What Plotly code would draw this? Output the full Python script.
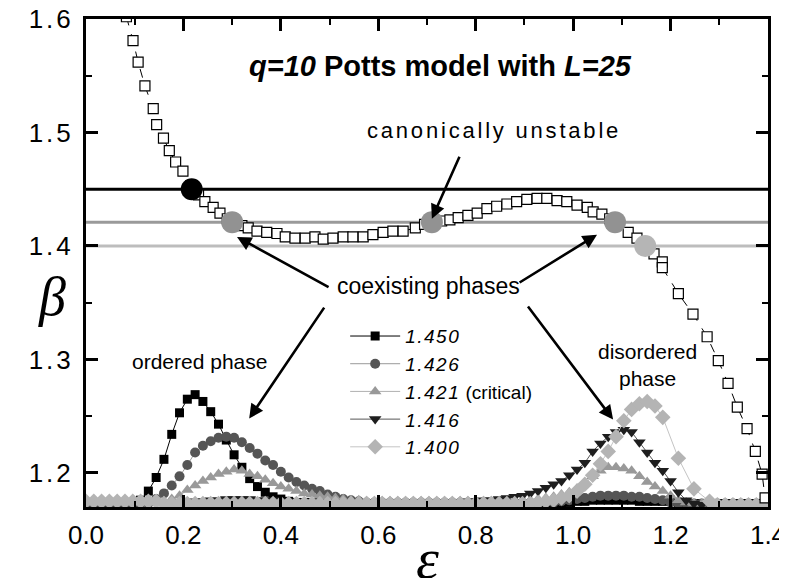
import plotly.graph_objects as go

# ---------------- data ----------------
# microcanonical caloric curve beta(eps)
eps_curve = [0.083, 0.0965, 0.107, 0.121, 0.138, 0.145, 0.159, 0.171, 0.184, 0.199,
             0.215, 0.231, 0.244, 0.261, 0.275, 0.290, 0.305, 0.320, 0.333, 0.351,
             0.371, 0.392, 0.409, 0.429, 0.450, 0.470, 0.487, 0.507, 0.528, 0.548,
             0.569, 0.589, 0.610, 0.630, 0.651, 0.676, 0.695, 0.712, 0.730, 0.747,
             0.764, 0.784, 0.803, 0.823, 0.843, 0.864, 0.884, 0.905, 0.926, 0.946,
             0.967, 0.987, 1.008, 1.029, 1.041, 1.059, 1.075, 1.090, 1.113, 1.131,
             1.150, 1.166, 1.183, 1.183, 1.216, 1.246, 1.275, 1.298, 1.318, 1.337,
             1.357, 1.374, 1.388, 1.394]
beta_curve = [1.602, 1.581, 1.562, 1.541, 1.521, 1.507, 1.495, 1.484, 1.474, 1.466,
              1.453, 1.445, 1.439, 1.434, 1.429, 1.424, 1.420, 1.418, 1.416, 1.413,
              1.412, 1.411, 1.408, 1.407, 1.407, 1.408, 1.406, 1.407, 1.408, 1.408,
              1.408, 1.410, 1.412, 1.413, 1.413, 1.416, 1.419, 1.421, 1.422, 1.423,
              1.425, 1.427, 1.429, 1.433, 1.435, 1.437, 1.439, 1.441, 1.442, 1.442,
              1.440, 1.439, 1.436, 1.434, 1.430, 1.428, 1.424, 1.419, 1.412, 1.407,
              1.400, 1.393, 1.386, 1.381, 1.358, 1.340, 1.320, 1.299, 1.279, 1.258,
              1.239, 1.219, 1.199, 1.178]

# horizontal beta levels
level_beta = [1.450, 1.421, 1.400]
level_color = ["#000000", "#9a9a9a", "#bdbdbd"]
eps_span = [0.0, 1.4]

# coexisting-phase points (intersections)
coex_eps = [0.217, 0.300, 0.710, 1.086, 1.148]
coex_beta = [1.450, 1.421, 1.421, 1.421, 1.400]
coex_color = ["#000000", "#929292", "#929292", "#929292", "#b5b5b5"]

# energy-histogram grid
eps_grid = [0.000, 0.016, 0.032, 0.048, 0.064, 0.080, 0.096, 0.112,
            0.128, 0.144, 0.160, 0.176, 0.192, 0.208, 0.224, 0.240,
            0.256, 0.272, 0.288, 0.304, 0.320, 0.336, 0.352, 0.368,
            0.384, 0.400, 0.416, 0.432, 0.448, 0.464, 0.480, 0.496,
            0.512, 0.528, 0.544, 0.560, 0.576, 0.592, 0.608, 0.624,
            0.640, 0.656, 0.672, 0.688, 0.704, 0.720, 0.736, 0.752,
            0.768, 0.784, 0.800, 0.816, 0.832, 0.848, 0.864, 0.880,
            0.896, 0.912, 0.928, 0.944, 0.960, 0.976, 0.992, 1.008,
            1.024, 1.040, 1.056, 1.072, 1.088, 1.104, 1.120, 1.136,
            1.152, 1.168, 1.184, 1.200, 1.216, 1.232, 1.248, 1.264,
            1.280, 1.296, 1.312, 1.328, 1.344, 1.360, 1.376, 1.392]

h1450 = [1.173, 1.173, 1.173, 1.173, 1.173, 1.173, 1.174, 1.176,
         1.184, 1.196, 1.212, 1.234, 1.253, 1.265, 1.269, 1.263,
         1.254, 1.243, 1.229, 1.216, 1.205, 1.195, 1.188, 1.183,
         1.179, 1.177, 1.175, 1.174, 1.174, 1.174, 1.174, 1.173,
         1.173, 1.173, 1.173, 1.173, 1.173, 1.173, 1.173, 1.173,
         1.173, 1.173, 1.173, 1.173, 1.173, 1.173, 1.173, 1.173,
         1.173, 1.173, 1.173, 1.173, 1.173, 1.173, 1.173, 1.173,
         1.173, 1.173, 1.173, 1.173, 1.173, 1.173, 1.174, 1.175,
         1.175, 1.176, 1.176, 1.176, 1.176, 1.176, 1.176, 1.175,
         1.175, 1.175, 1.175, 1.176, 1.173, 1.173, 1.173, 1.173,
         1.173, 1.173, 1.173, 1.173, 1.173, 1.173, 1.173, 1.173]

h1426 = [1.173, 1.173, 1.173, 1.173, 1.173, 1.173, 1.173, 1.173,
         1.173, 1.177, 1.182, 1.189, 1.197, 1.207, 1.218, 1.224,
         1.228, 1.231, 1.232, 1.231, 1.227, 1.222, 1.217, 1.211,
         1.207, 1.201, 1.196, 1.192, 1.189, 1.186, 1.184, 1.181,
         1.179, 1.177, 1.176, 1.175, 1.174, 1.174, 1.174, 1.174,
         1.174, 1.174, 1.174, 1.174, 1.174, 1.174, 1.174, 1.174,
         1.174, 1.174, 1.174, 1.174, 1.174, 1.174, 1.174, 1.174,
         1.174, 1.174, 1.174, 1.174, 1.174, 1.175, 1.176, 1.177,
         1.178, 1.179, 1.180, 1.180, 1.180, 1.180, 1.179, 1.179,
         1.178, 1.177, 1.176, 1.174, 1.173, 1.173, 1.173, 1.173,
         1.173, 1.173, 1.173, 1.173, 1.173, 1.173, 1.173, 1.173]

h1421 = [1.174, 1.174, 1.174, 1.174, 1.174, 1.174, 1.174, 1.174,
         1.174, 1.174, 1.175, 1.177, 1.180, 1.185, 1.189, 1.193,
         1.196, 1.199, 1.201, 1.203, 1.202, 1.199, 1.197, 1.194,
         1.191, 1.188, 1.186, 1.184, 1.182, 1.181, 1.180, 1.179,
         1.178, 1.177, 1.176, 1.176, 1.175, 1.175, 1.175, 1.175,
         1.175, 1.175, 1.175, 1.175, 1.175, 1.175, 1.175, 1.175,
         1.175, 1.175, 1.175, 1.175, 1.175, 1.175, 1.175, 1.175,
         1.175, 1.176, 1.177, 1.178, 1.179, 1.181, 1.183, 1.186,
         1.191, 1.197, 1.202, 1.205, 1.205, 1.204, 1.202, 1.197,
         1.192, 1.188, 1.184, 1.180, 1.176, 1.174, 1.173, 1.173,
         1.173, 1.173, 1.173, 1.173, 1.173, 1.173, 1.173, 1.173]

h1416 = [1.173, 1.173, 1.173, 1.173, 1.173, 1.173, 1.173, 1.173,
         1.173, 1.173, 1.173, 1.173, 1.173, 1.174, 1.175, 1.175,
         1.176, 1.176, 1.177, 1.177, 1.177, 1.177, 1.176, 1.176,
         1.176, 1.175, 1.174, 1.174, 1.174, 1.174, 1.174, 1.174,
         1.174, 1.174, 1.174, 1.174, 1.174, 1.174, 1.174, 1.174,
         1.174, 1.174, 1.174, 1.174, 1.174, 1.174, 1.174, 1.174,
         1.174, 1.175, 1.175, 1.176, 1.176, 1.177, 1.178, 1.179,
         1.180, 1.182, 1.184, 1.187, 1.190, 1.193, 1.198, 1.203,
         1.209, 1.219, 1.226, 1.232, 1.236, 1.238, 1.236, 1.227,
         1.218, 1.209, 1.202, 1.193, 1.183, 1.176, 1.173, 1.172,
         1.172, 1.172, 1.172, 1.172, 1.172, 1.172, 1.172, 1.172]

h1400 = [1.175, 1.175, 1.175, 1.175, 1.175, 1.175, 1.175, 1.175,
         1.175, 1.175, 1.173, 1.173, 1.173, 1.173, 1.173, 1.173,
         1.173, 1.173, 1.173, 1.173, 1.173, 1.173, 1.173, 1.173,
         1.173, 1.173, 1.173, 1.173, 1.173, 1.173, 1.173, 1.173,
         1.173, 1.173, 1.173, 1.173, 1.173, 1.173, 1.173, 1.173,
         1.173, 1.173, 1.173, 1.173, 1.173, 1.173, 1.173, 1.173,
         1.173, 1.173, 1.173, 1.173, 1.173, 1.173, 1.173, 1.173,
         1.173, 1.173, 1.174, 1.175, 1.176, 1.178, 1.180, 1.184,
         1.190, 1.198, 1.208, 1.219, 1.232, 1.246, 1.256, 1.261,
         1.263, 1.259, 1.249, None, 1.213, None, 1.186, None,
         1.175, 1.172, 1.172, 1.172, 1.172, 1.172, 1.172, 1.172]

series_numbers = ["1.450", "1.426", "1.421", "1.416", "1.400"]
series_suffix = ["", "", " (critical)", "", ""]
series_values = [h1450, h1426, h1421, h1416, h1400]
series_symbols = ["square", "circle", "triangle-up", "triangle-down", "diamond"]
series_mcolor = ["#000000", "#555555", "#999999", "#1e1e1e", "#b4b4b4"]
series_lcolor = ["#000000", "#9a9a9a", "#b0b0b0", "#555555", "#c4c4c4"]
series_msize = [9, 10, 11, 11, 12]

y_ticks = [1.2, 1.3, 1.4, 1.5, 1.6]
y_ticklabels = ["1.2", "1.3", "1.4", "1.5", "1.6"]

FONT = "Arial, Liberation Sans, sans-serif"
SERIF = "Times New Roman, Liberation Serif, serif"

fig = go.Figure()

# horizontal beta levels
for b, c in zip(level_beta, level_color):
    fig.add_trace(go.Scatter(x=eps_span, y=[b, b], mode="lines",
                             line=dict(color=c, width=3), showlegend=False,
                             hoverinfo="skip"))

# histogram series
for num, suf, vals, sym, mc, lc, ms in zip(series_numbers, series_suffix, series_values,
                                            series_symbols, series_mcolor, series_lcolor,
                                            series_msize):
    fig.add_trace(go.Scatter(x=eps_grid, y=vals,
                             name='<span style="letter-spacing:1.5px"><i>%s</i></span>%s' % (num, suf),
                             mode="lines+markers", connectgaps=True,
                             line=dict(color=lc, width=1),
                             marker=dict(symbol=sym, size=ms, color=mc,
                                         line=dict(width=0))))

# caloric curve
fig.add_trace(go.Scatter(x=eps_curve, y=beta_curve, mode="lines+markers",
                         line=dict(color="#000000", width=1, dash="dash"),
                         marker=dict(symbol="square", size=10, color="white",
                                     line=dict(color="#000000", width=1.2)),
                         showlegend=False))

# coexisting points
fig.add_trace(go.Scatter(x=coex_eps, y=coex_beta, mode="markers",
                         marker=dict(symbol="circle", size=22, color=coex_color,
                                     line=dict(width=0)),
                         showlegend=False))

annotations = [
    dict(x=0.727, y=1.559, xref="x", yref="y", showarrow=False,
         text="<b><i>q=10</i> Potts model with <i>L=25</i></b>",
         font=dict(family=FONT, size=29, color="black")),
    dict(x=0.838, y=1.502, xref="x", yref="y", showarrow=False,
         text='<span style="letter-spacing:2.8px">canonically unstable</span>',
         font=dict(family=FONT, size=22, color="black")),
    dict(x=0.704, y=1.3645, xref="x", yref="y", showarrow=False,
         text="coexisting phases",
         font=dict(family=FONT, size=23, color="black")),
    dict(x=0.232, y=1.298, xref="x", yref="y", showarrow=False,
         text="ordered phase",
         font=dict(family=FONT, size=21, color="black")),
    dict(x=1.152, y=1.295, xref="x", yref="y", showarrow=False,
         text="disordered<br>phase",
         font=dict(family=FONT, size=21, color="black")),
    dict(x=-0.073, y=0.43, xref="paper", yref="paper", showarrow=False,
         text="<i>β</i>", font=dict(family=SERIF, size=54, color="black")),
    dict(x=0.501, y=-0.105, xref="paper", yref="paper", showarrow=False,
         xanchor="center", yanchor="middle",
         text="<i>ε</i>", font=dict(family=SERIF, size=58, color="black")),
]

arrows = [
    ((0.710, 1.424), (0.768, 1.480)),
    ((0.310, 1.408), (0.501, 1.363)),
    ((1.049, 1.410), (0.887, 1.367)),
    ((0.335, 1.248), (0.491, 1.347)),
    ((1.082, 1.247), (0.905, 1.348)),
]
for (hx, hy), (tx, ty) in arrows:
    annotations.append(dict(x=hx, y=hy, ax=tx, ay=ty, xref="x", yref="y",
                            axref="x", ayref="y", text="", showarrow=True,
                            arrowhead=2, arrowsize=1.1, arrowwidth=2.6,
                            arrowcolor="black", standoff=0, startstandoff=0))

fig.update_layout(
    width=787, height=578,
    margin=dict(l=78, r=27, t=11, b=79),
    paper_bgcolor="white", plot_bgcolor="white",
    font=dict(family=FONT, color="black"),
    annotations=annotations,
    showlegend=True,
    legend=dict(x=0.380, y=0.389, xanchor="left", yanchor="top",
                bgcolor="rgba(0,0,0,0)", borderwidth=0, itemwidth=50,
                font=dict(family=FONT, size=19, color="black"),
                tracegroupgap=0),
)

fig.update_xaxes(range=[0, 1.4], dtick=0.2, tick0=0, tickformat=".1f",
                 showgrid=False, zeroline=False, automargin=False,
                 showline=True, linewidth=3, linecolor="black", mirror="allticks",
                 ticks="inside", ticklen=12, tickwidth=2.5, tickcolor="black",
                 minor=dict(ticks="inside", dtick=0.1, ticklen=6, tickwidth=2, tickcolor="black"),
                 tickfont=dict(family=FONT, size=26, color="black"),
                 ticklabelstandoff=3, ticklabeloverflow="allow")
fig.update_yaxes(range=[1.17, 1.6], tickvals=y_ticks,
                 ticktext=['<span style="letter-spacing:3px">%s</span>' % t for t in y_ticklabels],
                 showgrid=False, zeroline=False, automargin=False,
                 showline=True, linewidth=3, linecolor="black", mirror="allticks",
                 ticks="inside", ticklen=12, tickwidth=2.5, tickcolor="black",
                 minor=dict(ticks="inside", tickvals=[1.25, 1.35, 1.45, 1.55], ticklen=6, tickwidth=2, tickcolor="black"),
                 tickfont=dict(family=FONT, size=26, color="black"),
                 ticklabelstandoff=4, ticklabeloverflow="allow")

fig.write_html("out.html")
